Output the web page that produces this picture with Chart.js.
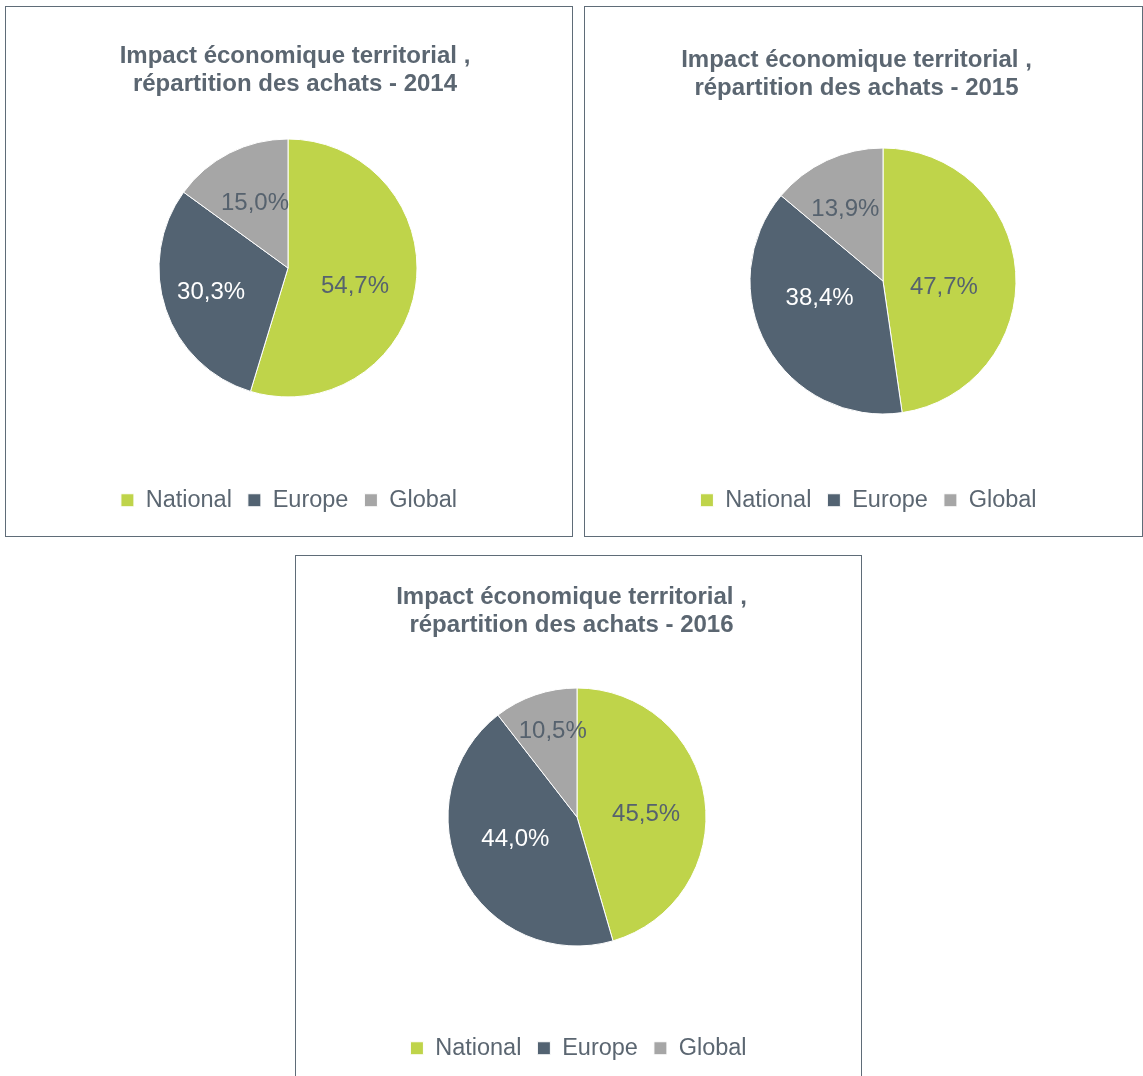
<!DOCTYPE html>
<html lang="fr">
<head>
    <meta charset="UTF-8">
    <title>Impact économique territorial</title>
    <style>
        html, body { margin: 0; padding: 0; background: #fff; overflow: hidden; }
        body { width: 1143px; height: 1076px; position: relative; font-family: "Liberation Sans", Arial, sans-serif; }
        .panel { position: absolute; border: 1px solid #5f6c78; background: #fff; }
        .panel canvas { display: block; }
        #p2014 { left: 5px; top: 6px; width: 566px; height: 529px; }
        #p2015 { left: 584px; top: 6px; width: 557px; height: 529px; }
        #p2016 { left: 295px; top: 555px; width: 565px; height: 529px; }
    </style>
</head>
<body>
    <div class="panel" id="p2014"><canvas id="chart2014" width="566" height="529"></canvas></div>
    <div class="panel" id="p2015"><canvas id="chart2015" width="557" height="529"></canvas></div>
    <div class="panel" id="p2016"><canvas id="chart2016" width="565" height="529"></canvas></div>

    <script src="https://cdn.jsdelivr.net/npm/chart.js"></script>
    <script>
        // Purchases split by region, in percent
        const categories = ['National', 'Europe', 'Global'];
        const years = ['2014', '2015', '2016'];
        const national = [54.7, 47.7, 45.5];
        const europe = [30.3, 38.4, 44.0];
        const global = [15.0, 13.9, 10.5];

        const sliceColors = ['#bfd44a', '#536372', '#a6a6a6'];
        const labelColors = ['#56626e', '#ffffff', '#56626e'];
        const textColor = '#5b6671';

        // Layout of each panel: pie centre and radius, title / legend nudges,
        // small pixel nudges for the slice labels (National, Europe, Global)
        const layouts = [
            { pie: { x: 282, y: 261, r: 129 }, titleTop: 35, titleDx: 6, legendBottom: 14, legendDx: 0,
              nudge: [[-7, 7], [-6, 1], [1, 2]] },
            { pie: { x: 298, y: 274, r: 133 }, titleTop: 39, titleDx: -7, legendBottom: 14, legendDx: 5,
              nudge: [[-16, 12], [4, -20], [-5, -2]] },
            { pie: { x: 281, y: 261, r: 129 }, titleTop: 27, titleDx: -7, legendBottom: 15, legendDx: 0,
              nudge: [[-5, 8], [5, -12], [0, -15]] }
        ];

        const fmt = v => v.toFixed(1).replace('.', ',') + '%';

        // Puts the pie where it belongs and slides title / legend sideways
        const placement = {
            id: 'placement',
            afterLayout(chart, args, opts) {
                const p = opts.pie;
                const area = chart.chartArea;
                area.left = p.x - p.r; area.right = p.x + p.r;
                area.top = p.y - p.r; area.bottom = p.y + p.r;
                area.width = 2 * p.r; area.height = 2 * p.r;
                if (chart.titleBlock) {
                    chart.titleBlock.left += opts.titleDx;
                    chart.titleBlock.right += opts.titleDx;
                }
                if (chart.legend) {
                    chart.legend.left += opts.legendDx;
                    chart.legend.right += opts.legendDx;
                }
            }
        };

        // Percentage text inside each slice
        const sliceLabels = {
            id: 'sliceLabels',
            afterDatasetsDraw(chart, args, opts) {
                const ctx = chart.ctx;
                const meta = chart.getDatasetMeta(0);
                const values = chart.data.datasets[0].data;
                ctx.save();
                ctx.font = '24px "Liberation Sans", Arial, sans-serif';
                ctx.textAlign = 'center';
                ctx.textBaseline = 'middle';
                meta.data.forEach((arc, i) => {
                    const mid = (arc.startAngle + arc.endAngle) / 2;
                    const d = arc.outerRadius * 0.58;
                    const [nx, ny] = opts.nudge[i];
                    ctx.fillStyle = labelColors[i];
                    ctx.fillText(fmt(values[i]), arc.x + Math.cos(mid) * d + nx, arc.y + Math.sin(mid) * d + ny);
                });
                ctx.restore();
            }
        };

        function createPie(canvasId, idx) {
            const lay = layouts[idx];
            return new Chart(document.getElementById(canvasId), {
                type: 'pie',
                data: {
                    labels: categories,
                    datasets: [{
                        data: [national[idx], europe[idx], global[idx]],
                        backgroundColor: sliceColors,
                        borderColor: '#ffffff',
                        borderWidth: 1,
                        radius: lay.pie.r
                    }]
                },
                options: {
                    responsive: false,
                    animation: false,
                    layout: { padding: { top: 0, bottom: lay.legendBottom, left: 0, right: 0 } },
                    plugins: {
                        title: {
                            display: true,
                            text: ['Impact économique territorial ,', 'répartition des achats - ' + years[idx]],
                            color: textColor,
                            font: { family: '"Liberation Sans", Arial, sans-serif', size: 24, weight: 'bold', lineHeight: 1.17 },
                            padding: { top: lay.titleTop, bottom: 10 }
                        },
                        legend: {
                            position: 'bottom',
                            labels: {
                                color: textColor,
                                boxWidth: 13,
                                boxHeight: 13,
                                padding: 16,
                                font: { family: '"Liberation Sans", Arial, sans-serif', size: 23.5 }
                            }
                        },
                        tooltip: { enabled: false },
                        placement: { pie: lay.pie, titleDx: lay.titleDx, legendDx: lay.legendDx },
                        sliceLabels: { nudge: lay.nudge }
                    }
                },
                plugins: [placement, sliceLabels]
            });
        }

        createPie('chart2014', 0);
        createPie('chart2015', 1);
        createPie('chart2016', 2);
    </script>
</body>
</html>
